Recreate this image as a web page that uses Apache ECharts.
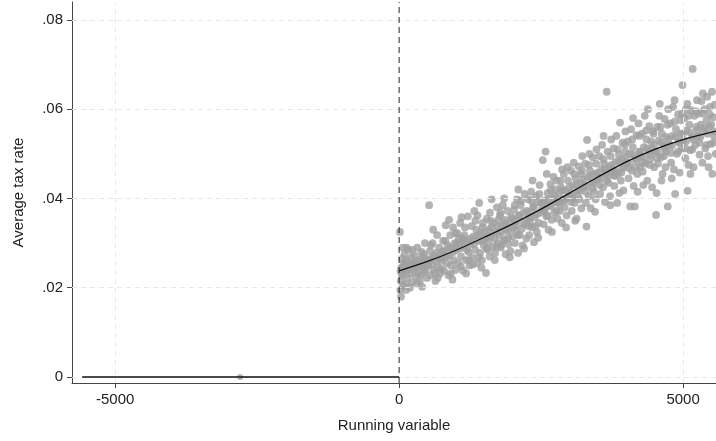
<!DOCTYPE html>
<html>
<head>
<meta charset="utf-8">
<script src="https://cdn.jsdelivr.net/npm/echarts@6/dist/echarts.min.js"></script>
<style>html,body{margin:0;padding:0;background:#fff}#c{width:716px;height:441px}</style>
</head>
<body>
<div id="c"></div>
<script>
// ---- data ----
const xTicks = [-5000, 0, 5000];
const yTicks = [0, 0.02, 0.04, 0.06, 0.08];
const yTickLabels = ['0', '.02', '.04', '.06', '.08'];
const leftPoints = [[-2800, 0]];
const leftFitX = [-5580, 0];
const leftFitY = [0, 0];
const fitX = [0, 500, 1000, 1500, 2000, 2500, 3000, 3500, 4000, 4500, 5000, 5580];
const fitY = [0.0238, 0.0259, 0.0284, 0.0313, 0.0343, 0.0376, 0.0412, 0.0448, 0.0482, 0.0510, 0.0532, 0.0551];
const rightPoints = [
[15,0.0325],[20,0.0195],[35,0.018],[30,0.0215],[40,0.0245],[55,0.0265],[60,0.0228],[80,0.0252],[95,0.0275],[110,0.0238],[120,0.0208],[140,0.0262],[150,0.0222],[170,0.0285],[185,0.0248],[200,0.0232],[215,0.0268],[230,0.0212],[245,0.0255],[25,0.0238],[70,0.0205],[130,0.0290],[190,0.0200],[100,0.0258],
[260,0.0240],[275,0.0272],[290,0.0225],[305,0.0258],[320,0.0290],[335,0.0232],[350,0.0262],[365,0.0215],[380,0.0248],[395,0.0280],[405,0.0202],[420,0.0255],[440,0.0235],[455,0.0300],[470,0.0265],[490,0.0222],[300,0.0245],[430,0.0275],
[510,0.0250],[528,0.0385],[540,0.0282],[555,0.0228],[570,0.0265],[590,0.0300],[605,0.0240],[620,0.0272],[640,0.0215],[655,0.0258],[670,0.0318],[690,0.0245],[705,0.0290],[720,0.0232],[735,0.0275],[745,0.0260],[600,0.0330],[680,0.0222],
[760,0.0268],[775,0.0305],[790,0.0238],[805,0.0282],[820,0.0340],[840,0.0255],[855,0.0295],[870,0.0228],[885,0.0272],[900,0.0318],[915,0.0250],[930,0.0288],[950,0.0335],[965,0.0262],[980,0.0300],[995,0.0240],[880,0.0352],[940,0.0218],
[1010,0.0285],[1025,0.0322],[1040,0.0255],[1060,0.0298],[1075,0.0345],[1090,0.0270],[1110,0.0310],[1125,0.0238],[1140,0.0292],[1160,0.0335],[1175,0.0262],[1190,0.0305],[1210,0.0360],[1225,0.0280],[1240,0.0250],[1100,0.0358],[1180,0.0232],[1050,0.0310],
[1260,0.0298],[1275,0.0338],[1290,0.0268],[1310,0.0315],[1325,0.0372],[1340,0.0285],[1360,0.0330],[1375,0.0255],[1390,0.0305],[1410,0.0390],[1425,0.0278],[1440,0.0322],[1460,0.0262],[1475,0.0345],[1490,0.0295],[1380,0.0362],[1450,0.0245],[1300,0.0252],
[1510,0.0310],[1530,0.0233],[1545,0.0355],[1560,0.0285],[1580,0.0330],[1595,0.0270],[1615,0.0315],[1630,0.0398],[1650,0.0292],[1665,0.0345],[1685,0.0262],[1700,0.0325],[1720,0.0380],[1735,0.0300],[1745,0.0352],[1600,0.0368],[1690,0.0278],[1570,0.0302],
[1760,0.0318],[1775,0.0362],[1790,0.0290],[1810,0.0338],[1825,0.0385],[1840,0.0305],[1860,0.0352],[1875,0.0275],[1890,0.0328],[1910,0.0372],[1925,0.0298],[1940,0.0345],[1960,0.0282],[1975,0.0360],[1990,0.0315],[1850,0.0400],[1950,0.0268],[1800,0.0295],
[2010,0.0335],[2025,0.0375],[2040,0.0300],[2060,0.0350],[2075,0.0398],[2095,0.0278],[2110,0.0362],[2125,0.0318],[2140,0.0385],[2160,0.0332],[2175,0.0295],[2190,0.0368],[2210,0.0410],[2225,0.0342],[2240,0.0310],[2100,0.0420],[2200,0.0288],[2050,0.0328],
[2260,0.0355],[2275,0.0398],[2290,0.0318],[2310,0.0370],[2325,0.0415],[2340,0.0335],[2360,0.0382],[2375,0.0302],[2390,0.0358],[2410,0.0405],[2425,0.0325],[2440,0.0392],[2460,0.0345],[2475,0.0430],[2490,0.0368],[2350,0.0440],[2450,0.0312],[2300,0.0348],
[2510,0.0375],[2530,0.0486],[2545,0.0342],[2560,0.0395],[2580,0.0505],[2595,0.0360],[2615,0.0412],[2630,0.0330],[2650,0.0385],[2665,0.0432],[2685,0.0352],[2700,0.0400],[2720,0.0448],[2735,0.0368],[2745,0.0420],[2600,0.0455],[2690,0.0325],[2570,0.0378],
[2760,0.0392],[2775,0.0440],[2790,0.0355],[2800,0.0484],[2815,0.0410],[2830,0.0372],[2850,0.0425],[2865,0.0345],[2880,0.0398],[2900,0.0455],[2915,0.0380],[2930,0.0418],[2950,0.0362],[2965,0.0470],[2985,0.0405],[2870,0.0465],[2940,0.0335],[2820,0.0388],
[3010,0.0412],[3025,0.0462],[3040,0.0372],[3060,0.0428],[3075,0.0480],[3090,0.0390],[3110,0.0445],[3125,0.0355],[3140,0.0418],[3160,0.0472],[3175,0.0398],[3190,0.0435],[3210,0.0378],[3225,0.0495],[3240,0.0425],[3100,0.0350],[3200,0.0455],[3050,0.0400],
[3260,0.0430],[3275,0.0478],[3290,0.0390],[3300,0.0337],[3310,0.0531],[3320,0.0448],[3340,0.0405],[3360,0.0462],[3375,0.0378],[3390,0.0435],[3410,0.0492],[3425,0.0415],[3440,0.0455],[3460,0.0398],[3475,0.0510],[3490,0.0442],[3350,0.0500],[3450,0.0370],
[3510,0.0448],[3525,0.0495],[3540,0.0410],[3560,0.0465],[3575,0.0520],[3590,0.0425],[3610,0.0478],[3625,0.0392],[3640,0.0455],[3655,0.0639],[3670,0.0505],[3685,0.0435],[3700,0.0470],[3715,0.0405],[3735,0.0532],[3745,0.0460],[3600,0.0540],[3720,0.0385],
[3760,0.0465],[3775,0.0512],[3790,0.0428],[3810,0.0482],[3825,0.0540],[3840,0.0390],[3855,0.0455],[3870,0.0498],[3890,0.0570],[3905,0.0440],[3920,0.0488],[3935,0.0525],[3950,0.0418],[3965,0.0472],[3985,0.0550],[3880,0.0412],[3980,0.0505],[3800,0.0450],
[4010,0.0480],[4025,0.0528],[4040,0.0445],[4060,0.0500],[4070,0.0382],[4085,0.0555],[4100,0.0462],[4115,0.0515],[4130,0.0428],[4150,0.0382],[4165,0.0490],[4180,0.0542],[4195,0.0455],[4215,0.0568],[4230,0.0505],[4245,0.0470],[4120,0.0580],[4200,0.0415],
[4260,0.0495],[4275,0.0545],[4290,0.0460],[4310,0.0515],[4325,0.0585],[4340,0.0478],[4355,0.0532],[4370,0.0440],[4390,0.0505],[4405,0.0562],[4420,0.0488],[4440,0.0528],[4455,0.0425],[4470,0.0550],[4490,0.0470],[4380,0.0600],[4450,0.0512],[4300,0.0430],
[4510,0.0505],[4525,0.0363],[4535,0.0412],[4545,0.0560],[4560,0.0478],[4575,0.0530],[4590,0.0612],[4610,0.0492],[4625,0.0545],[4640,0.0455],[4660,0.0518],[4675,0.0578],[4690,0.0470],[4705,0.0538],[4730,0.0382],[4740,0.0600],[4620,0.0440],[4700,0.0505],[4580,0.0585],
[4760,0.0520],[4775,0.0568],[4790,0.0480],[4810,0.0540],[4825,0.0605],[4840,0.0465],[4860,0.0410],[4875,0.0555],[4890,0.0500],[4910,0.0588],[4925,0.0528],[4940,0.0458],[4960,0.0575],[4975,0.0512],[4990,0.0654],[4850,0.0620],[4950,0.0545],[4800,0.0445],
[5010,0.0530],[5025,0.0580],[5040,0.0490],[5060,0.0552],[5075,0.0612],[5080,0.0417],[5095,0.0475],[5110,0.0565],[5125,0.0508],[5140,0.0598],[5160,0.0538],[5170,0.0690],[5185,0.0470],[5200,0.0585],[5215,0.0520],[5235,0.0560],[5245,0.0620],[5130,0.0455],[5050,0.0600],
[5260,0.0540],[5275,0.0590],[5290,0.0498],[5310,0.0565],[5325,0.0618],[5340,0.0480],[5360,0.0550],[5375,0.0600],[5390,0.0512],[5410,0.0575],[5425,0.0628],[5440,0.0495],[5460,0.0560],[5475,0.0605],[5490,0.0522],[5510,0.0639],[5515,0.0455],[5530,0.0582],[5545,0.0540],[5560,0.0610],[5575,0.0500],[5350,0.0635],[5450,0.0470]
];
const rightPointsCore = [
[45,0.0232],[88,0.0245],[160,0.0240],[210,0.0250],[280,0.0255],[340,0.0248],[410,0.0268],[475,0.0250],[530,0.0262],[585,0.0252],[650,0.0278],[710,0.0265],[770,0.0282],[830,0.0270],[895,0.0290],[955,0.0280],[1015,0.0300],[1070,0.0288],[1135,0.0305],[1195,0.0285],[1255,0.0310],[1320,0.0298],[1385,0.0318],[1445,0.0305],[1505,0.0325],[1565,0.0315],[1625,0.0335],[1680,0.0310],[1740,0.0338],[1800,0.0325],[1865,0.0345],[1930,0.0330],[1995,0.0355],[2055,0.0340],[2120,0.0362],[2185,0.0345],[2245,0.0372],[2305,0.0358],[2370,0.0380],[2430,0.0365],[2495,0.0390],[2555,0.0372],[2620,0.0398],[2680,0.0382],[2740,0.0405],[2805,0.0392],[2870,0.0418],[2935,0.0400],[2995,0.0425],[3055,0.0410],[3120,0.0432],[3180,0.0418],[3245,0.0442],[3305,0.0428],[3370,0.0450],[3430,0.0435],[3495,0.0458],[3555,0.0445],[3620,0.0465],[3680,0.0450],[3740,0.0475],[3805,0.0462],[3870,0.0482],[3930,0.0468],[3995,0.0490],[4055,0.0478],[4120,0.0498],[4180,0.0485],[4245,0.0505],[4305,0.0492],[4370,0.0512],[4430,0.0498],[4495,0.0520],[4555,0.0505],[4620,0.0525],[4680,0.0512],[4745,0.0532],[4805,0.0518],[4870,0.0538],[4930,0.0525],[4995,0.0545],[5055,0.0528],[5120,0.0548],[5180,0.0532],[5245,0.0552],[5305,0.0538],[5370,0.0558],[5430,0.0545],[5495,0.0565],[5555,0.0550],
[65,0.0290],[125,0.0195],[235,0.0285],[315,0.0210],[385,0.0228],[460,0.0240],[560,0.0295],[630,0.0232],[740,0.0242],[815,0.0305],[910,0.0232],[990,0.0322],[1085,0.0248],[1150,0.0318],[1230,0.0262],[1345,0.0350],[1400,0.0268],[1470,0.0335],[1540,0.0288],[1610,0.0350],[1715,0.0292],[1785,0.0368],[1855,0.0308],[1920,0.0312],[2035,0.0385],[2090,0.0318],[2150,0.0395],[2280,0.0338],[2330,0.0395],[2400,0.0338],[2470,0.0410],[2540,0.0390],[2610,0.0362],[2670,0.0418],[2775,0.0372],[2845,0.0440],[2910,0.0395],[2975,0.0440],[3030,0.0392],[3085,0.0455],[3150,0.0405],[3220,0.0462],[3285,0.0415],[3345,0.0475],[3410,0.0422],[3470,0.0478],[3535,0.0430],[3600,0.0488],[3660,0.0440],[3725,0.0495],[3785,0.0452],[3850,0.0510],[3915,0.0458],[3975,0.0520],[4040,0.0468],[4105,0.0532],[4165,0.0470],[4230,0.0540],[4290,0.0480],[4350,0.0552],[4415,0.0475],[4480,0.0545],[4540,0.0490],[4600,0.0560],[4665,0.0495],[4725,0.0565],[4790,0.0502],[4850,0.0572],[4915,0.0505],[4980,0.0590],[5040,0.0512],[5100,0.0585],[5165,0.0510],[5225,0.0595],[5290,0.0525],[5350,0.0590],[5415,0.0520],[5470,0.0588],[5540,0.0525]
];
const xMin = -5760, xMax = 5580;
const yMin = -0.00134, yMax = 0.0840;

// ---- chart ----
const font = 'Arial, "Liberation Sans", Helvetica, sans-serif';
const chart = echarts.init(document.getElementById('c'), null, {renderer: 'canvas'});
const gridLine = {color: '#e8e8e8', type: [5, 4], width: 1};
const fitPairs = fitX.map((x, i) => [x, fitY[i]]);
const leftFitPairs = leftFitX.map((x, i) => [x, leftFitY[i]]);
const dotColor = '#a0a0a0';
chart.setOption({
  animation: false,
  backgroundColor: '#fff',
  grid: {left: 72, right: 0, top: 2, bottom: 58},
  xAxis: {
    type: 'value', min: xMin, max: xMax,
    name: 'Running variable', nameLocation: 'middle', nameGap: 35,
    nameTextStyle: {fontFamily: font, fontSize: 15, color: '#222'},
    axisLine: {show: true, onZero: false, lineStyle: {color: '#444', width: 1}},
    axisTick: {show: true, length: 5, customValues: xTicks, lineStyle: {color: '#444'}},
    axisLabel: {customValues: xTicks, fontFamily: font, fontSize: 15, color: '#222', margin: 9,
      formatter: v => String(v)},
    splitLine: {show: false}
  },
  yAxis: {
    type: 'value', min: yMin, max: yMax,
    name: 'Average tax rate', nameLocation: 'middle', nameGap: 46, nameRotate: 90,
    nameTextStyle: {fontFamily: font, fontSize: 15, color: '#222'},
    axisLine: {show: true, onZero: false, lineStyle: {color: '#444', width: 1}},
    axisTick: {show: true, length: 5, customValues: yTicks, lineStyle: {color: '#444'}},
    axisLabel: {customValues: yTicks, fontFamily: font, fontSize: 15, color: '#222', margin: 9,
      formatter: v => { const i = yTicks.findIndex(t => Math.abs(t - v) < 1e-9); return i >= 0 ? yTickLabels[i] : ''; }},
    splitLine: {show: false}
  },
  series: [
    {
      type: 'line', data: [], silent: true,
      markLine: {
        symbol: 'none', silent: true, label: {show: false}, lineStyle: gridLine,
        data: yTicks.map(v => ({yAxis: v})).concat(xTicks.filter(v => v !== 0).map(v => ({xAxis: v})))
      }
    },
    {
      type: 'scatter', data: rightPoints, symbol: 'circle', symbolSize: 7.8,
      itemStyle: {color: dotColor}, silent: true
    },
    {
      type: 'scatter', data: rightPointsCore, symbol: 'circle', symbolSize: 7.8,
      itemStyle: {color: dotColor}, silent: true
    },
    {
      type: 'scatter', data: leftPoints, symbol: 'circle', symbolSize: 6,
      itemStyle: {color: dotColor}, silent: true
    },
    {
      type: 'line', data: fitPairs, smooth: 0.3, showSymbol: false, symbol: 'none',
      lineStyle: {color: '#111', width: 1.3}, silent: true, z: 5
    },
    {
      type: 'line', data: leftFitPairs, showSymbol: false, symbol: 'none',
      lineStyle: {color: '#111', width: 1.3}, silent: true, z: 5
    },
    {
      type: 'line', data: [[0, yMin], [0, yMax]], showSymbol: false, symbol: 'none',
      lineStyle: {color: '#222', width: 1, type: [6, 4]}, silent: true, z: 6
    }
  ]
});
</script>
</body>
</html>
